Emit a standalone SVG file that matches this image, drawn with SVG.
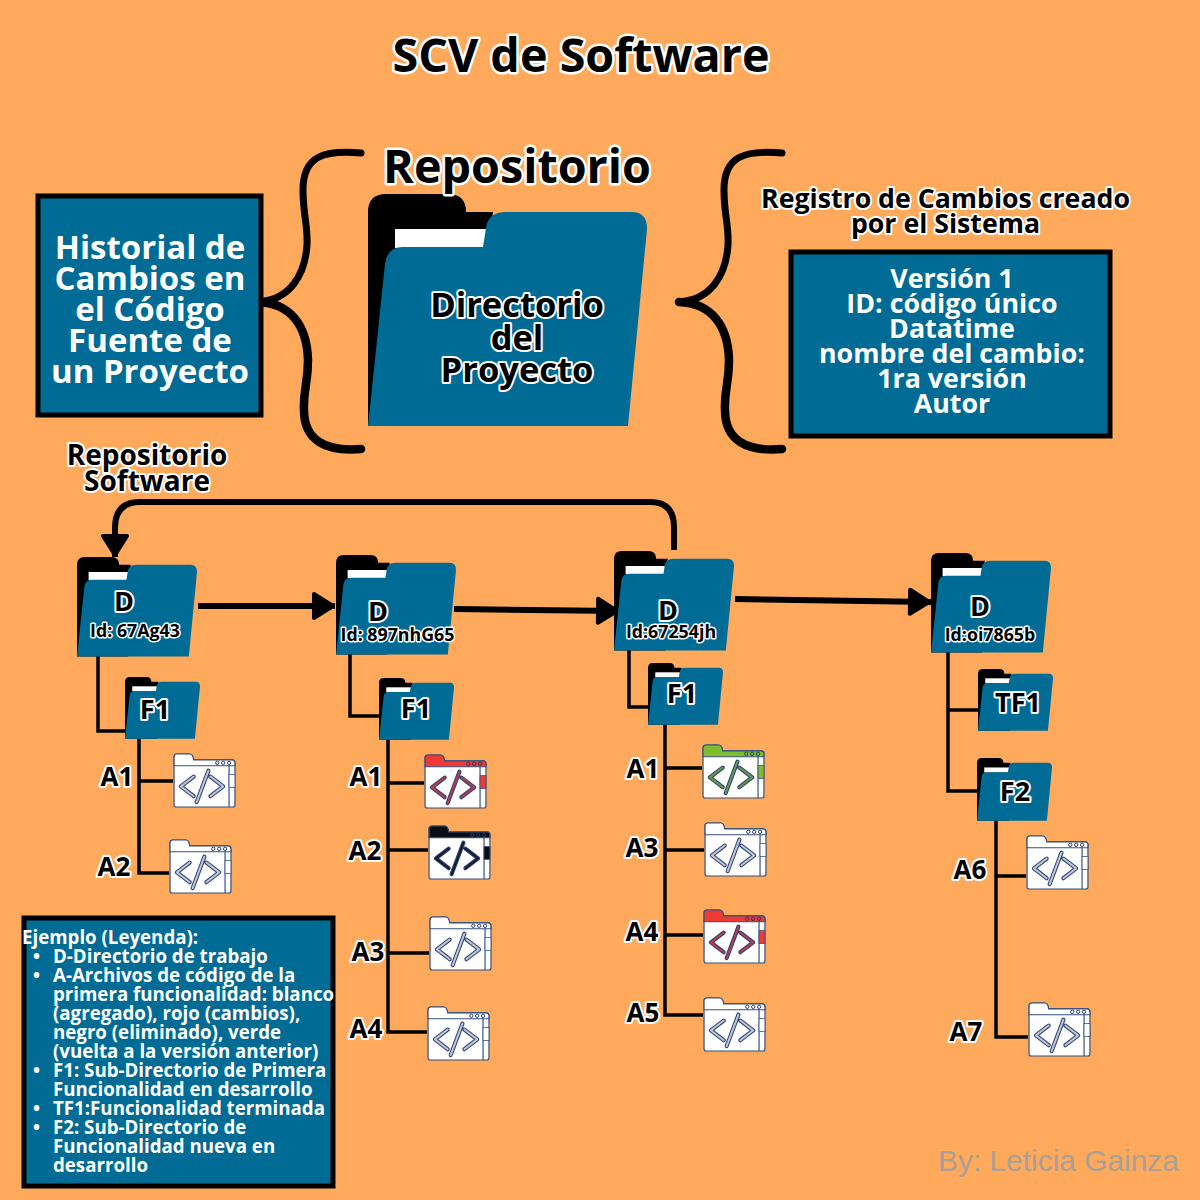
<svg xmlns="http://www.w3.org/2000/svg" xmlns:xlink="http://www.w3.org/1999/xlink" width="1200" height="1200" viewBox="0 0 1200 1200">
<style>
text{font-family:"Open Sans","Noto Sans","Liberation Sans",sans-serif;font-weight:700;text-anchor:middle}
.o{fill:#000;stroke:#fff;stroke-width:4px;paint-order:stroke;stroke-linejoin:round}
.big{stroke-width:5px}
.w{fill:#fff}
.l{font-size:18.7px;text-anchor:start;fill:#fff}
.a{font-size:26px}
.f{font-size:27px}
.id{font-size:17.8px;stroke-width:3px}
.c{fill:none;stroke:#000;stroke-width:3.5px}
.t{fill:none;stroke:#000;stroke-width:6px}
.box{fill:#006b94;stroke:#000;stroke-width:5px}
</style>
<defs>
<marker id="ah" markerUnits="userSpaceOnUse" markerWidth="28" markerHeight="34" refX="24" refY="15" orient="auto" overflow="visible"><path d="M3 3L22 15L3 27Z" fill="#000" stroke="#000" stroke-width="4" stroke-linejoin="round"/></marker>
<g id="brace" fill="none" stroke="#000" stroke-linecap="round">
<path stroke-width="7" d="M361 153C325 150 303 155 303 190C303 215 308 225 307 245C305 275 290 300 258 302"/>
<path stroke-width="8.5" d="M258 302C290 303 307 325 308 360C308 385 303 390 304 410C304 440 325 452 361 449"/>
</g>
<symbol id="folder" viewBox="0 0 279 233" overflow="visible" preserveAspectRatio="none">
<path d="M0 232V18Q0 0 18 0H80Q98 0 98 18H125L119 60V232Z" fill="#000"/>
<rect x="27" y="35" width="92" height="19" fill="#fff"/>
<path d="M0 232L17 70Q19 53 35 53H115L118 34Q120 18 138 18H264Q279 18 279 35L260 232Z" fill="#006b94"/>
</symbol>
<symbol id="file" viewBox="0 0 64 56" overflow="visible">
<path d="M1 12V4Q1 1 4 1H17Q20 1 21 7H60Q63 7 63 10V53Q63 55 61 55H3Q1 55 1 53Z" fill="#fff" stroke="#34507f" stroke-width="1.2"/>
<path d="M1 13V4Q1 1 4 1H17Q20 1 21 7H60Q63 7 63 10V13Z" fill="currentColor" stroke="#34507f" stroke-width="1.2"/>
<path d="M57 13V55" stroke="#34507f" stroke-width="1.2"/>
<rect x="57" y="22" width="6" height="13" fill="currentColor" stroke="#34507f" stroke-width=".8"/>
<g fill="none" stroke="#2b3a67" stroke-width="1"><circle cx="45" cy="10" r="1.7"/><circle cx="51" cy="10" r="1.7"/><circle cx="57" cy="10" r="1.7"/></g>
<path d="M21 24L8 34L21 44M38 24L51 34L38 44M36 18L24 50" fill="none" stroke="#2f4576" stroke-width="4.2" stroke-linecap="round" stroke-linejoin="round"/>
<path d="M21 24L8 34L21 44M38 24L51 34L38 44M36 18L24 50" fill="none" stroke="currentColor" stroke-opacity=".7" stroke-width="2" stroke-linecap="round" stroke-linejoin="round"/>
</symbol>
</defs>
<rect width="1200" height="1200" fill="#ffa95c"/>
<text id="title" x="581" y="72" class="o big" font-size="46.7">SCV de Software</text>

<g id="connectors">
<use href="#brace"/>
<use href="#brace" x="421"/>
<path class="t" marker-end="url(#ah)" d="M198 606H335"/>
<path class="t" marker-end="url(#ah)" d="M454 609L619 611"/>
<path class="t" marker-end="url(#ah)" d="M735 599L931 602"/>
<path class="t" marker-end="url(#ah)" d="M674 550V527Q674 502 650 502H140Q115 502 115 528V557"/>
<path class="c" d="M98 656V731H125M139 739V873H169M139 781H173"/>
<path class="c" d="M350 654V716H379M388 740V1032H427M388 783H424M388 850H428M388 953H429"/>
<path class="c" d="M629 650V707H648M665 725V1015H703M665 768H702M665 850H704M665 935H703"/>
<path class="c" d="M948 652V791H977M948 710H978M996 821V1037H1028M996 876H1026"/>
</g>

<g id="historial">
<rect class="box" x="38" y="196" width="223" height="219"/>
<g class="w" font-size="33"><text x="150" y="259">Historial de</text><text x="150" y="290">Cambios en</text><text x="150" y="321">el Código</text><text x="150" y="352">Fuente de</text><text x="150" y="383">un Proyecto</text></g>
</g>

<g id="repositorio">
<use href="#folder" x="368" y="194" width="279" height="233"/>
<text x="517" y="183" class="o big" font-size="46.7">Repositorio</text>
<g class="o" font-size="34.5"><text x="517" y="317">Directorio</text><text x="517" y="350">del</text><text x="517" y="382">Proyecto</text></g>
</g>

<g id="registro">
<g class="o" font-size="26.7"><text x="945.5" y="208">Registro de Cambios creado</text><text x="945.5" y="233">por el Sistema</text></g>
<rect class="box" x="791" y="252" width="319" height="184"/>
<g class="w" font-size="26.8"><text x="952" y="288">Versión 1</text><text x="952" y="313">ID: código único</text><text x="952" y="338">Datatime</text><text x="952" y="363">nombre del cambio:</text><text x="952" y="388">1ra versión</text><text x="952" y="413">Autor</text></g>
</g>

<g id="repo-software" class="o" font-size="28"><text x="147" y="465">Repositorio</text><text x="147" y="491">Software</text></g>

<g id="d1"><use href="#folder" x="77" y="557" width="120" height="100"/><text class="o f" x="124" y="611">D</text><text class="o id" x="135" y="637">Id: 67Ag43</text></g>
<g id="d2"><use href="#folder" x="336" y="555" width="120" height="100"/><text class="o f" x="378" y="621">D</text><text class="o id" x="397.5" y="641">Id: 897nhG65</text></g>
<g id="d3"><use href="#folder" x="614" y="551" width="120" height="100"/><text class="o f" x="668" y="620">D</text><text class="o id" x="671" y="638">Id:67254jh</text></g>
<g id="d4"><use href="#folder" x="931" y="553" width="120" height="100"/><text class="o f" x="980" y="616">D</text><text class="o id" x="990" y="641">Id:oi7865b</text></g>

<g id="f1-1"><use href="#folder" x="125" y="677" width="75" height="62"/><text class="o f" x="155" y="719">F1</text></g>
<g id="f1-2"><use href="#folder" x="379" y="678" width="75" height="62"/><text class="o f" x="416" y="718">F1</text></g>
<g id="f1-3"><use href="#folder" x="648" y="663" width="75" height="62"/><text class="o f" x="682" y="703">F1</text></g>
<g id="tf1"><use href="#folder" x="978" y="669" width="75" height="62"/><text class="o f" x="1018" y="712">TF1</text></g>
<g id="f2"><use href="#folder" x="977" y="758" width="75" height="63"/><text class="o f" x="1015" y="801">F2</text></g>

<g id="files">
<use href="#file" x="173" y="753" width="63" height="55" color="#fff"/>
<use href="#file" x="169" y="839" width="63" height="55" color="#fff"/>
<use href="#file" x="424" y="754" width="63" height="55" color="#ee3a34"/>
<use href="#file" x="428" y="825" width="63" height="55" color="#0c0c14"/>
<use href="#file" x="429" y="916" width="63" height="55" color="#fff"/>
<use href="#file" x="427" y="1006" width="63" height="55" color="#fff"/>
<use href="#file" x="702" y="744" width="63" height="55" color="#7ebd2e"/>
<use href="#file" x="704" y="822" width="63" height="55" color="#fff"/>
<use href="#file" x="703" y="909" width="63" height="55" color="#ee3a34"/>
<use href="#file" x="703" y="997" width="63" height="55" color="#fff"/>
<use href="#file" x="1026" y="835" width="63" height="55" color="#fff"/>
<use href="#file" x="1028" y="1002" width="63" height="55" color="#fff"/>
</g>

<g id="file-labels" class="o a">
<text x="117" y="786">A1</text><text x="114" y="876">A2</text>
<text x="366" y="786">A1</text><text x="365" y="860">A2</text><text x="368" y="961">A3</text><text x="366" y="1038">A4</text>
<text x="643" y="778">A1</text><text x="642" y="857">A3</text><text x="642" y="941">A4</text><text x="643" y="1022">A5</text>
<text x="970" y="879">A6</text><text x="966" y="1041">A7</text>
</g>

<g id="legend">
<rect class="box" x="24" y="918" width="309" height="268"/>
<g class="l">
<text class="l" x="22" y="944">Ejemplo (Leyenda):</text>
<text class="l" x="33" y="963">•</text><text class="l" x="53" y="963">D-Directorio de trabajo</text>
<text class="l" x="33" y="982">•</text><text class="l" x="53" y="982">A-Archivos de código de la</text>
<text class="l" x="53" y="1001">primera funcionalidad: blanco</text>
<text class="l" x="53" y="1020">(agregado), rojo (cambios),</text>
<text class="l" x="53" y="1039">negro (eliminado), verde</text>
<text class="l" x="53" y="1058">(vuelta a la versión anterior)</text>
<text class="l" x="33" y="1077">•</text><text class="l" x="53" y="1077">F1: Sub-Directorio de Primera</text>
<text class="l" x="53" y="1096">Funcionalidad en desarrollo</text>
<text class="l" x="33" y="1115">•</text><text class="l" x="53" y="1115">TF1:Funcionalidad terminada</text>
<text class="l" x="33" y="1134">•</text><text class="l" x="53" y="1134">F2: Sub-Directorio de</text>
<text class="l" x="53" y="1153">Funcionalidad nueva en</text>
<text class="l" x="53" y="1172">desarrollo</text>
</g>
</g>

<text id="credit" x="938" y="1171" style="font-family:'Liberation Sans',Arial,sans-serif;font-weight:400;text-anchor:start;font-size:29.9px" fill="#a99f94">By: Leticia Gainza</text>
</svg>
